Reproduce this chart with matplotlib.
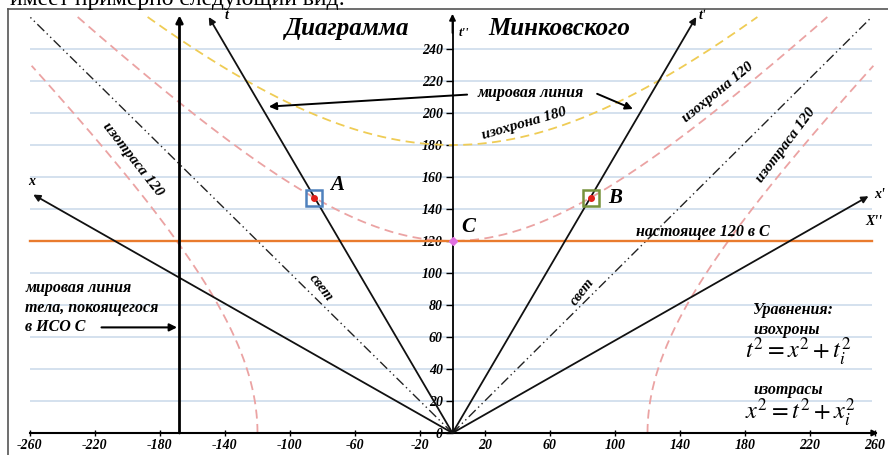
import matplotlib.pyplot as plt
import numpy as np
from matplotlib.lines import Line2D

plt.rcParams['font.family'] = ['Liberation Serif', 'DejaVu Serif']
plt.rcParams['mathtext.fontset'] = 'stix'

# ---- data ----
x_ticks = [-260, -220, -180, -140, -100, -60, -20, 20, 60, 100, 140, 180, 220, 260]
t_ticks = [0, 20, 40, 60, 80, 100, 120, 140, 160, 180, 200, 220, 240]
grid_t = [20, 40, 60, 80, 100, 120, 140, 160, 180, 200, 220, 240]

# tips of the frame axes (x, t)
t_axis_tip = (-150, 260)
x_axis_tip = (-258, 149)
t1_axis_tip = (150, 260)
x1_axis_tip = (256, 148)
light_tips = [(-260, 260), (258, 260)]

iso_chrone = 120     # t^2 = x^2 + 120^2
iso_chrone_2 = 180   # t^2 = x^2 + 180^2
iso_trace = 120      # x^2 = t^2 + 120^2
t_max = 260

body_x = -168        # body at rest in frame C
now_t = 120          # "настоящее 120 в С"

event_A = (-85, 147)
event_B = (85, 147)
event_C = (0, 120)

# ---- figure: one axes on the whole canvas ----
fig = plt.figure(figsize=(8.88, 4.55), dpi=100)
ax = fig.add_axes([0, 0, 1, 1])
ax.set_xlim((0 - 452.5) / 1.625, (888 - 452.5) / 1.625)
ax.set_ylim((433 - 455) / 1.6, 433 / 1.6)
ax.patch.set_visible(False)

bi = dict(fontweight='bold', fontstyle='italic')

# grid
ax.hlines(grid_t, -260, 258, color='#c9d8ea', lw=1.1, zorder=0)

# spines as the t'' and x axes
for s in ['top', 'right']:
    ax.spines[s].set_visible(False)
ax.spines['left'].set_position(('data', 0))
ax.spines['bottom'].set_position(('data', 0))
ax.spines['left'].set_bounds(0, 258)
ax.spines['bottom'].set_bounds(-260, 258)
ax.spines['left'].set_linewidth(1.3)
ax.spines['bottom'].set_linewidth(1.5)
ax.annotate('', xy=(0, 262), xytext=(0, 250),
            arrowprops=dict(arrowstyle='-|>', color='k', lw=1.3, mutation_scale=9,
                            shrinkA=0, shrinkB=0))
ax.annotate('', xy=(262, 0), xytext=(250, 0),
            arrowprops=dict(arrowstyle='-|>', color='k', lw=1.3, mutation_scale=9,
                            shrinkA=0, shrinkB=0))

ax.set_xticks(x_ticks)
ax.set_xticklabels([str(v) for v in x_ticks], **bi)
ax.set_yticks(t_ticks)
ax.set_yticklabels([str(v) for v in t_ticks], **bi)
ax.tick_params(axis='x', direction='inout', length=5, width=1, labelsize=10, pad=2)
ax.tick_params(axis='y', direction='out', length=5, width=1, labelsize=10, pad=2)

# light lines
for tip in light_tips:
    ax.plot([0, tip[0]], [0, tip[1]], color='#222222', lw=1.0,
            linestyle=(0, (7, 2.5, 1, 2.5, 1, 2.5)), zorder=2)

# isochrone 120 and 180, isotrace 120
xc = np.linspace(-np.sqrt(t_max**2 - iso_chrone**2), np.sqrt(t_max**2 - iso_chrone**2), 300)
ax.plot(xc, np.sqrt(xc**2 + iso_chrone**2), color='#eba3a3', lw=1.3, ls=(0, (5, 3)), zorder=2)
xc2 = np.linspace(-np.sqrt(t_max**2 - iso_chrone_2**2), np.sqrt(t_max**2 - iso_chrone_2**2), 300)
ax.plot(xc2, np.sqrt(xc2**2 + iso_chrone_2**2), color='#efcc55', lw=1.3, ls=(0, (5, 3)), zorder=2)
tt = np.linspace(0, np.sqrt(259**2 - iso_trace**2), 300)
for sgn in (-1, 1):
    ax.plot(sgn * np.sqrt(tt**2 + iso_trace**2), tt, color='#eba3a3', lw=1.3,
            ls=(0, (5, 3)), zorder=2)

# present moment of C
ax.plot([-260, 258], [now_t, now_t], color='#e97b2e', lw=1.7, zorder=3)

# frame axes t, x, t', x'
for tip in [t_axis_tip, x_axis_tip, t1_axis_tip, x1_axis_tip]:
    ax.annotate('', xy=tip, xytext=(0, 0),
                arrowprops=dict(arrowstyle='-|>', color='#111111', lw=1.3,
                                mutation_scale=10, shrinkA=0, shrinkB=0), zorder=4)

# world line of the body at rest
ax.annotate('', xy=(body_x, 261), xytext=(body_x, 0),
            arrowprops=dict(arrowstyle='-|>', color='k', lw=2.0,
                            mutation_scale=10, shrinkA=0, shrinkB=0), zorder=4)

# events
ax.plot(*event_A, marker='s', ms=12, mfc='none', mec='#4f81bd', mew=1.8, zorder=5)
ax.plot(*event_B, marker='s', ms=12, mfc='none', mec='#77933c', mew=1.8, zorder=5)
ax.plot(*event_A, 'o', ms=4, color='#e0201a', zorder=6)
ax.plot(*event_B, 'o', ms=4, color='#e0201a', zorder=6)
ax.plot(*event_C, 'D', ms=4, color='#e070e0', zorder=6)

# labels of axes
ax.text(-139, 261, 't', fontsize=10, ha='center', va='center', **bi)
ax.text(154, 261, "t'", fontsize=10, ha='center', va='center', **bi)
ax.text(-259, 157, 'x', fontsize=10, ha='center', va='center', **bi)
ax.text(263, 149, "x'", fontsize=10, ha='center', va='center', **bi)
ax.text(259, 132, "X''", fontsize=10, ha='center', va='center', **bi)
ax.text(7, 250, "t''", fontsize=9, ha='center', va='center', **bi)

# title
ax.text(-65, 248.5, 'Диаграмма', fontsize=18, ha='center', va='baseline', **bi)
ax.text(22, 248.5, 'Минковского', fontsize=18, ha='left', va='baseline', **bi)

# world line pointers
ax.text(48, 212.5, 'мировая линия', fontsize=11.5, ha='center', va='center', **bi)
ax.annotate('', xy=(-113, 204), xytext=(9, 211.5),
            arrowprops=dict(arrowstyle='-|>', color='k', lw=1.4, mutation_scale=11,
                            shrinkA=0, shrinkB=0))
ax.annotate('', xy=(111, 202.5), xytext=(89, 212),
            arrowprops=dict(arrowstyle='-|>', color='k', lw=1.4, mutation_scale=11,
                            shrinkA=0, shrinkB=0))

# curve names
ax.text(44, 193, 'изохрона 180', fontsize=11, rotation=16, ha='center', va='center', **bi)
ax.text(163, 213, 'изохрона 120', fontsize=11, rotation=39, ha='center', va='center', **bi)
ax.text(205, 180, 'изотраса 120', fontsize=11, rotation=53, ha='center', va='center', **bi)
ax.text(-197, 171, 'изотраса 120', fontsize=11, rotation=-52, ha='center', va='center', **bi)
ax.text(-81, 91, 'свет', fontsize=10.5, rotation=-52, ha='center', va='center', **bi)
ax.text(80, 88, 'свет', fontsize=10.5, rotation=52, ha='center', va='center', **bi)

# event names
ax.text(-71, 155, 'A', fontsize=15, ha='center', va='center', **bi)
ax.text(100, 147, 'B', fontsize=15, ha='center', va='center', **bi)
ax.text(9.5, 129, 'C', fontsize=15, ha='center', va='center', **bi)

ax.text(154, 125.5, 'настоящее 120 в С', fontsize=11.5, ha='center', va='center', **bi)

# body at rest note
ax.text(-263, 90.5, 'мировая линия', fontsize=11.5, ha='left', va='center', **bi)
ax.text(-263, 78, 'тела, покоящегося', fontsize=11.5, ha='left', va='center', **bi)
ax.text(-263, 66, 'в ИСО С', fontsize=11.5, ha='left', va='center', **bi)
ax.annotate('', xy=(-169.5, 66), xytext=(-216, 66),
            arrowprops=dict(arrowstyle='-|>', color='k', lw=1.5, mutation_scale=11,
                            shrinkA=0, shrinkB=0))

# equations
ax.text(185, 77, 'Уравнения:', fontsize=11.5, ha='left', va='center', **bi)
ax.text(185, 64.5, 'изохроны', fontsize=11.5, ha='left', va='center', **bi)
ax.text(180, 50.5, r'$t^2 = x^2 + t_i^2$', fontsize=17.5, ha='left', va='center')
ax.text(185, 27, 'изотрасы', fontsize=11.5, ha='left', va='center', **bi)
ax.text(180, 12.5, r'$x^2 = t^2 + x_i^2$', fontsize=17.5, ha='left', va='center')

# page frame and the cut-off line of text above it
fig.add_artist(Line2D([8 / 888, 8 / 888], [0, 1 - 9 / 455], color='#555555', lw=1.2))
fig.add_artist(Line2D([8 / 888, 1], [1 - 9 / 455, 1 - 9 / 455], color='#555555', lw=1.2))
fig.text(10 / 888, 1 - 5 / 455, 'имеет примерно следующий вид:', fontsize=17,
         ha='left', va='baseline')

fig.savefig('out.png', dpi=100)
